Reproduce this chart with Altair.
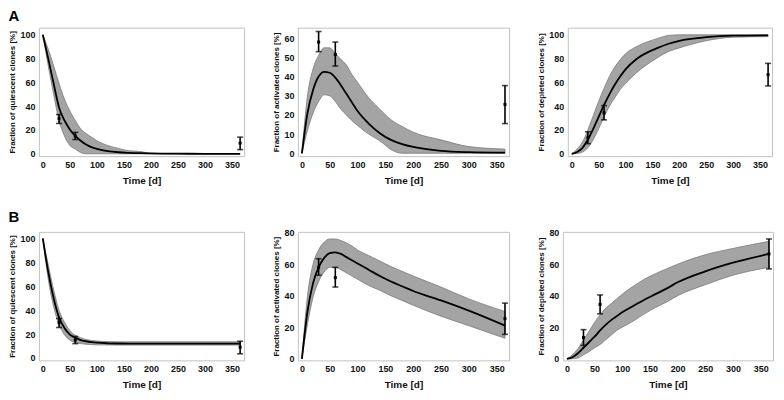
import altair as alt
import pandas as pd

# ---------------- data ----------------
T = [0, 10, 20, 30, 40, 50, 60, 70, 80, 90, 100, 120, 140, 160, 180, 200, 250, 300, 365]

# Row A - quiescent
QA_MEAN = [100, 80, 59, 39, 28, 20.5, 15, 11, 7.8, 5.6, 4.2, 2.3, 1.3, 0.8, 0.5, 0.3, 0.1, 0, 0]
QA_HI = [100, 88, 74, 59, 46, 36, 28, 21, 17, 14, 11, 7, 4.5, 2.5, 2, 0.3, 0, 0, 0]
QA_LO = [100, 74, 50, 28, 15, 7, 4, 1, 0, 0, 0, 0, 0, 0, 0, 0, 0, 0, 0]
# Row A - activated
AA_MEAN = [0, 21, 33, 40, 42.5, 42, 39.5, 35.5, 31, 26.5, 22, 15.5, 10.5, 7, 4.8, 3.3, 1.3, 0.6, 0.3]
AA_HI = [0, 30, 44, 51, 55, 55, 52, 49, 46, 41, 37, 29, 23, 17.5, 14, 11, 7, 3.5, 2.2]
AA_LO = [0, 12, 21, 27, 30.5, 30, 27, 23, 20, 17, 14.5, 10, 6.5, 2, 0, 0, 0, 0, 0]
# Row A - depleted
DA_MEAN = [0, 1.5, 5, 12, 21, 31, 41, 50, 58, 65, 71, 79.5, 85, 89, 92.5, 95, 98, 99.3, 99.6]
DA_HI = [0, 4, 10, 20, 32, 44, 55, 65, 73, 79, 84, 90, 94, 97, 99.5, 100, 100, 100, 100]
DA_LO = [0, 0.3, 1.5, 5, 12, 21, 31, 40, 47, 54, 59, 68, 75, 81, 86, 89, 95, 98, 98.5]

# Row B - quiescent
QB_MEAN = [100, 72, 50, 34, 25, 19.5, 17, 15, 14, 13.3, 12.8, 12.3, 12.1, 12, 12, 12, 12, 12, 12]
QB_HI = [100, 78, 57, 40, 30, 23, 19, 17, 15.5, 14.7, 14.2, 13.7, 13.5, 13.5, 13.5, 13.5, 13.5, 13.5, 13.5]
QB_LO = [100, 66, 43, 28, 19.5, 15, 13, 12, 11.5, 11.2, 11, 10.9, 10.8, 10.8, 10.8, 10.8, 10.8, 10.8, 10.8]
# Row B - activated
AB_MEAN = [0, 30, 48, 58, 64, 67, 67.5, 66.5, 64.5, 62.5, 60.5, 56.5, 52.5, 49, 46, 43, 37, 30.5, 21]
AB_HI = [0, 40, 60, 69, 74, 76, 76, 75, 73.5, 71.5, 69, 65.5, 62, 58.5, 55.5, 52.5, 45.5, 38, 30]
AB_LO = [0, 22, 39, 49, 55, 58, 58, 56.5, 54.5, 52.5, 50.5, 46.5, 43.5, 40, 37, 34, 27, 21, 13]
# Row B - depleted
DB_MEAN = [0, 1, 3.5, 7, 10.5, 14, 18, 21.5, 24.5, 27, 29.5, 33.5, 37.5, 41, 44.5, 48.5, 55.5, 61, 66.5]
DB_HI = [0, 2.5, 6.5, 12, 17.5, 23, 28, 32, 35, 38, 41, 46, 50.5, 54, 57, 60, 66, 70, 74.5]
DB_LO = [0, 0, 0.5, 2.5, 4.5, 7, 9, 12, 15, 18, 20, 24, 28.5, 32.5, 36, 40, 47, 53, 58]

# Observations (mean, lower, upper)
OBS_T = [30, 60, 365]
QUI_OBS = [29.5, 15, 9]
QUI_OBS_LO = [25.5, 12, 3.5]
QUI_OBS_HI = [33, 18, 14]
ACT_OBS = [58, 51.5, 25.5]
ACT_OBS_LO = [53, 45.5, 15.5]
ACT_OBS_HI = [63.5, 58, 35.3]
DEP_OBS = [13.5, 34.5, 66.5]
DEP_OBS_LO = [8.5, 28.5, 57]
DEP_OBS_HI = [18.5, 40.5, 76]

X_TICKS = [0, 50, 100, 150, 200, 250, 300, 350]
X_DOMAIN = [-7.3, 372.3]

FONT = "Liberation Sans"


def panel(mean, lo, hi, obs, obs_lo, obs_hi, ydom, yticks, ytitle, width, height=129):
    df = pd.DataFrame({"t": T, "mean": mean, "lo": lo, "hi": hi})
    dobs = pd.DataFrame({"t": OBS_T, "v": obs, "lo": obs_lo, "hi": obs_hi})
    xs = alt.Scale(domain=X_DOMAIN, nice=False, zero=False)
    ys = alt.Scale(domain=ydom, nice=False, zero=False)
    xax = alt.Axis(values=X_TICKS, title="Time [d]", titleFontSize=10, labelFontSize=9,
                   labelPadding=4, titlePadding=6, labelOverlap=False, labelFlush=False)
    yax = alt.Axis(values=yticks, title=ytitle, titleFontSize=8, labelFontSize=9,
                   labelPadding=4, titlePadding=3, labelOverlap=False, labelFlush=False)

    def X():
        return alt.X("t:Q", scale=xs, axis=xax)

    def Y(f):
        return alt.Y(f, type="quantitative", scale=ys, axis=yax)

    band = alt.Chart(df).mark_area(
        fill="#a4a4a4", stroke="#7a7a7a", strokeWidth=0.8, interpolate="monotone"
    ).encode(x=X(), y=Y("lo"), y2="hi:Q")
    line = alt.Chart(df).mark_line(
        color="black", strokeWidth=1.8, interpolate="monotone"
    ).encode(x=X(), y=Y("mean"))
    rule = alt.Chart(dobs).mark_rule(color="black", strokeWidth=1.6).encode(
        x=X(), y=Y("lo"), y2="hi:Q")
    cap_lo = alt.Chart(dobs).mark_tick(color="black", thickness=1.6, size=6,
                                       orient="horizontal").encode(x=X(), y=Y("lo"))
    cap_hi = alt.Chart(dobs).mark_tick(color="black", thickness=1.6, size=6,
                                       orient="horizontal").encode(x=X(), y=Y("hi"))
    pt = alt.Chart(dobs).mark_point(filled=True, shape="square", size=9, color="black",
                                    opacity=1).encode(x=X(), y=Y("v"))
    return alt.layer(band, line, rule, cap_lo, cap_hi, pt).properties(width=width, height=height)


a1 = panel(QA_MEAN, QA_LO, QA_HI, QUI_OBS, QUI_OBS_LO, QUI_OBS_HI, [-2, 106],
           [0, 20, 40, 60, 80, 100], "Fraction of quiescent clones [%]", 206)
a2 = panel(AA_MEAN, AA_LO, AA_HI, ACT_OBS, ACT_OBS_LO, ACT_OBS_HI, [-1.5, 65.5],
           [0, 10, 20, 30, 40, 50, 60], "Fraction of activated clones [%]", 212)
a3 = panel(DA_MEAN, DA_LO, DA_HI, DEP_OBS, DEP_OBS_LO, DEP_OBS_HI, [-2, 106],
           [0, 20, 40, 60, 80, 100], "Fraction of depleted clones [%]", 205)

b1 = panel(QB_MEAN, QB_LO, QB_HI, QUI_OBS, QUI_OBS_LO, QUI_OBS_HI, [-2, 105.5],
           [0, 20, 40, 60, 80, 100], "Fraction of quiescent clones [%]", 206)
b2 = panel(AB_MEAN, AB_LO, AB_HI, ACT_OBS, ACT_OBS_LO, ACT_OBS_HI, [-1, 80.5],
           [0, 20, 40, 60, 80], "Fraction of activated clones [%]", 212)
b3 = panel(DB_MEAN, DB_LO, DB_HI, DEP_OBS, DEP_OBS_LO, DEP_OBS_HI, [-1, 80.5],
           [0, 20, 40, 60, 80], "Fraction of depleted clones [%]", 211)


def row_title(s):
    return alt.TitleParams(s, anchor="start", fontSize=15, font=FONT, fontWeight="bold",
                           color="black", offset=3)


row_a = alt.hconcat(a1, a2, a3, spacing=27).properties(title=row_title("A"))
row_b = alt.hconcat(b1, b2, b3, spacing=27).properties(title=row_title("B"))

chart = alt.vconcat(row_a, row_b, spacing=24).properties(
    padding={"left": 0, "top": 0, "right": 2, "bottom": 0}
).configure_view(
    stroke="#c2c2c2", strokeWidth=1
).configure_axis(
    grid=False, ticks=False, domain=False, labelOverlap=False,
    labelFont=FONT, titleFont=FONT, labelFontWeight="bold", titleFontWeight="bold",
    labelColor="#111111", titleColor="#111111"
)

chart.save("out.html", embed_options={"renderer": "svg", "actions": False})
